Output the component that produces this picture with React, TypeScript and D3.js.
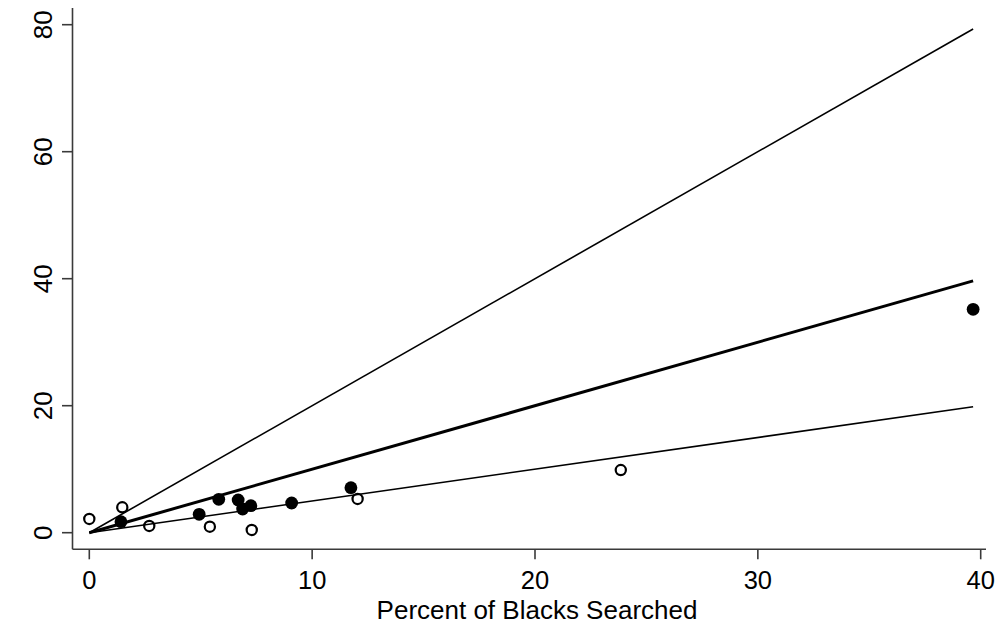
import React from "react";
import * as d3 from "d3";

const xTicks = [0, 10, 20, 30, 40];
const yTicks = [0, 20, 40, 60, 80];
const xTitle = "Percent of Blacks Searched";

// hollow markers
const openX = [0.0, 1.48, 2.69, 5.41, 7.29, 12.04, 23.85];
const openY = [2.16, 4.0, 1.06, 0.94, 0.43, 5.31, 9.87];
// filled markers
const filledX = [1.42, 4.93, 5.81, 6.68, 6.88, 7.25, 9.08, 11.74, 39.66];
const filledY = [1.73, 2.9, 5.26, 5.15, 3.73, 4.25, 4.68, 7.09, 35.18];

// reference lines y = k * x
const lineSlopes = [2, 1, 0.5];
const lineWidths = [1.6, 3, 1.6];
const lineXRange = [0, 39.66];

export default function App() {
  const W = 1003;
  const H = 624;
  const x = d3.scaleLinear().domain([0, 40]).range([89.3, 980.7]);
  const y = d3.scaleLinear().domain([0, 80]).range([532.7, 24.7]);
  const axisX = 72.5;
  const axisY = 549.3;
  const font = "'Liberation Sans', Arial, Helvetica, sans-serif";
  const line = d3
    .line<[number, number]>()
    .x((d) => x(d[0]))
    .y((d) => y(d[1]));

  return (
    <svg
      width={W}
      height={H}
      style={{ position: "absolute", left: 0, top: 0, background: "#fff" }}
    >
      <rect x={0} y={0} width={W} height={H} fill="#fff" />
      {/* axes */}
      <line x1={axisX} y1={8} x2={axisX} y2={axisY} stroke="#3a3a3a" strokeWidth={1.6} />
      <line x1={axisX} y1={axisY} x2={986} y2={axisY} stroke="#3a3a3a" strokeWidth={1.6} />
      {yTicks.map((t) => (
        <g key={"y" + t}>
          <line x1={axisX - 10.5} x2={axisX} y1={y(t)} y2={y(t)} stroke="#3a3a3a" strokeWidth={1.6} />
          <text
            transform={`translate(51.5,${y(t)}) rotate(-90)`}
            textAnchor="middle"
            fontFamily={font}
            fontSize={26}
            fill="#000"
          >
            {t}
          </text>
        </g>
      ))}
      {xTicks.map((t) => (
        <g key={"x" + t}>
          <line x1={x(t)} x2={x(t)} y1={axisY} y2={axisY + 10} stroke="#3a3a3a" strokeWidth={1.6} />
          <text x={x(t)} y={589} textAnchor="middle" fontFamily={font} fontSize={25.5} fill="#000">
            {t}
          </text>
        </g>
      ))}
      <text x={537} y={619} textAnchor="middle" fontFamily={font} fontSize={26} fill="#000">
        {xTitle}
      </text>
      {/* reference lines */}
      {lineSlopes.map((k, i) => (
        <path
          key={"l" + i}
          d={line(lineXRange.map((v) => [v, k * v] as [number, number])) || ""}
          fill="none"
          stroke="#000"
          strokeWidth={lineWidths[i]}
        />
      ))}
      {/* points */}
      {openX.map((v, i) => (
        <circle key={"o" + i} cx={x(v)} cy={y(openY[i])} r={5.1} fill="none" stroke="#000" strokeWidth={2.2} />
      ))}
      {filledX.map((v, i) => (
        <circle key={"f" + i} cx={x(v)} cy={y(filledY[i])} r={6.4} fill="#000" />
      ))}
    </svg>
  );
}
